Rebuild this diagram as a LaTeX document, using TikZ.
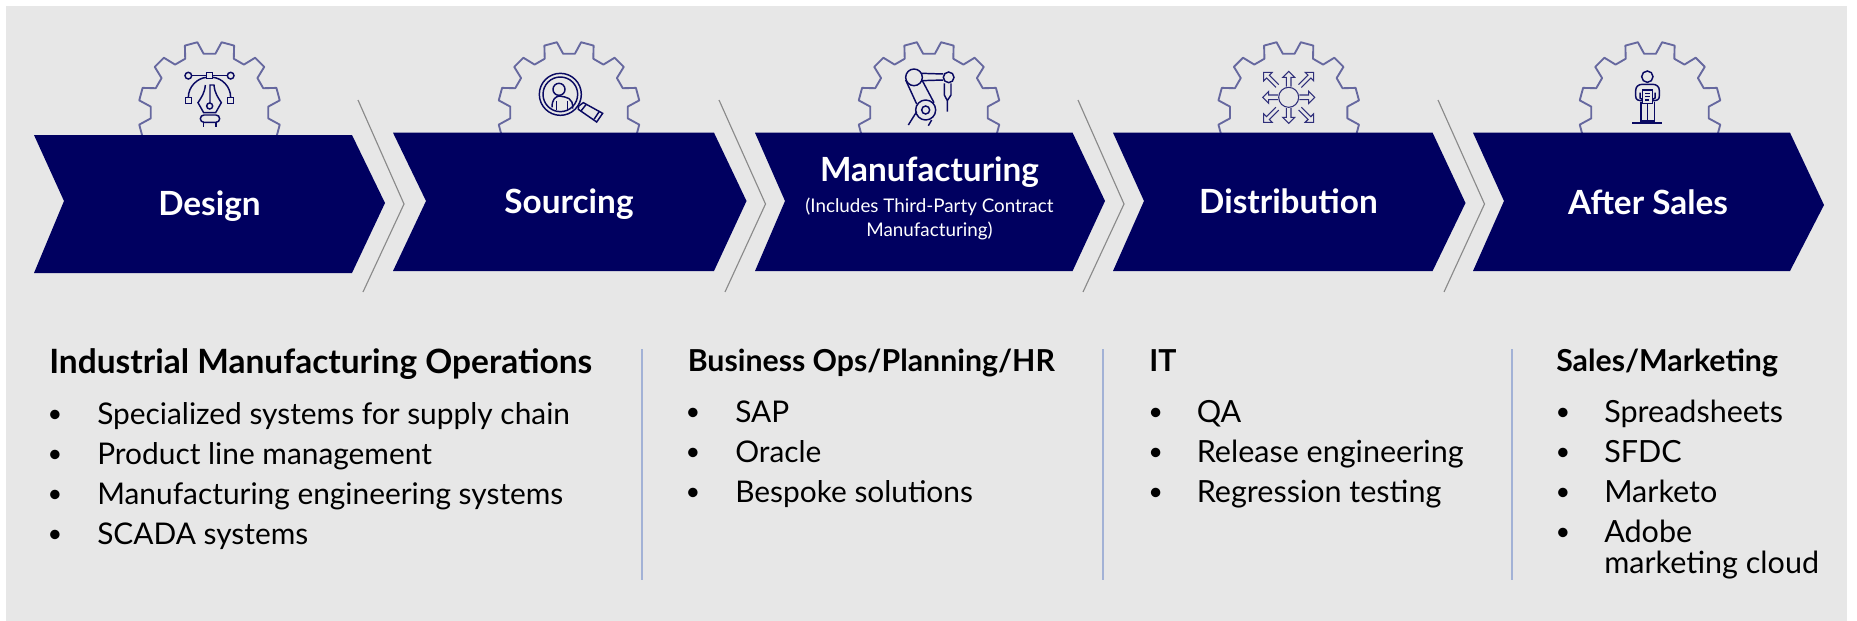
\documentclass[tikz,border=0pt]{standalone}
\usepackage{fontspec}
\setmainfont{Lato}
\definecolor{panelgray}{HTML}{E7E7E7}
\definecolor{navyfill}{HTML}{000060}
\definecolor{gearline}{HTML}{66689F}
\definecolor{iconline}{HTML}{0A0A62}
\definecolor{sepline}{HTML}{8A8A8A}
\definecolor{divline}{HTML}{A3B2D6}
\newlength{\pxlen}
\setlength{\pxlen}{0.75pt}
\begin{document}
\begin{tikzpicture}[x=\pxlen,y=-\pxlen]

% styles
\pgfkeys{/chev/.style={fill=navyfill, draw=none}} % arrow bands
\pgfkeys{/gear/.style={draw=gearline, line width=1.4pt, line join=round}} % cog behind each band
\pgfkeys{/icon/.style={draw=iconline, line width=1.1pt}} % line icons
\pgfkeys{/thinicon/.style={draw=iconline!85!white, line width=0.8pt, line join=miter}} % arrows icon
\pgfkeys{/sep/.style={draw=sepline, line width=0.85pt}} % lines between bands
\pgfkeys{/div/.style={draw=divline, line width=0.9pt}} % lines between columns
\pgfkeys{/title/.style={text=white, anchor=base, inner sep=0, node font=\fontsize{25pt}{29pt}\selectfont\bfseries}}
\pgfkeys{/subtitle/.style={text=white, anchor=base, inner sep=0, node font=\fontsize{14.1pt}{17pt}\selectfont}}
\pgfkeys{/head/.style={anchor=base west, inner sep=0, node font=\fontsize{22.7pt}{27pt}\selectfont\bfseries}}
\pgfkeys{/bighead/.style={/head, node font=\fontsize{25.1pt}{29pt}\selectfont\bfseries}}
\pgfkeys{/item/.style={anchor=base west, inner sep=0, node font=\fontsize{22.4pt}{27pt}\selectfont}}
\pgfkeys{/wideitem/.style={/item, node font=\fontsize{22.9pt}{27pt}\selectfont}}
\pgfkeys{/dot/.style={anchor=base, inner sep=0, yshift=0.8pt, node font=\fontsize{19pt}{23pt}\selectfont}}

\useasboundingbox (0,0) rectangle (1857,621);
\fill[panelgray] (6,6) rectangle (1847,621);

% cogs
\foreach \gx/\gy in {209.5/112.5, 569/112.5, 929/112.5, 1288.7/112.5, 1650/112.5} {
\draw[/gear, shift={(\gx,\gy)}] (5.7:59) foreach \a in {15,45,...,345} {
-- (\a-9.3:59) -- (\a-5.2:71.3) -- (\a+5.2:71.3) -- (\a+9.3:59)
} -- cycle;
}

% bands
\foreach \xl/\xn/\xr/\xt/\yt/\ym/\yb in {
34/64/352/385/135/203/273,
393/426/714/746.5/132.7/201/271,
755/785/1072.6/1105/132.7/201/271,
1113/1144/1432.6/1465.5/132.7/203/271,
1473/1504/1790/1824/132.7/205/271} {
\fill[/chev] (\xl,\yt) -- (\xr,\yt) -- (\xt,\ym) -- (\xr,\yb) -- (\xl,\yb) -- (\xn,201) -- cycle;
}

% lines between bands
\foreach \xa/\xb/\xc in {358/404/363, 719/765.5/725, 1078/1124/1083, 1438/1484.5/1444} {
\draw[/sep] (\xa,100) -- (\xb,204) -- (\xc,292);
}

% band labels
\node[/title] (design) at (209.5,215) {Design};
\node[/title] (sourcing) at (569,213.7) {Sourcing};
\node[/title] (manufacturing) at (929.5,181.7) {Manufacturing};
\node[/subtitle] (includes) at (929.5,212.2) {(Includes Third-Party Contract};
\node[/subtitle] (contract) at (929.5,236) {Manufacturing)};
\node[/title] (distribution) at (1288.5,213.7) {Distribution};
\node[/title] (aftersales) at (1648,214) {After Sales};

% pen icon
\begin{scope}[shift={(160,60)}, x=0.25pt, y=-0.25pt]
\draw[/icon] (95,47) -- (140,47) (158,47) -- (202,47);
\draw[/icon] (85,47) circle (10) (212,47) circle (10) (149,138) circle (9);
\draw[/icon] (140,37) rectangle (158,55) (76,112) rectangle (94,130) (203,112) rectangle (221,130);
\draw[/icon] (85,112) .. controls (85,80) and (112,54) .. (140,52);
\draw[/icon] (158,52) .. controls (186,54) and (212,80) .. (212,112);
\draw[/icon] (136,75) .. controls (134,100) and (124,112) .. (114,128) -- (131,158) -- (167,158) -- (184,128) .. controls (174,112) and (164,100) .. (162,75) -- (150,75) -- (150,129);
\draw[/icon] (132,165) -- (168,165) arc (-90:90:11) -- (132,187) arc (90:270:11);
\draw[/icon] (130,187) -- (130,200) (168,187) -- (168,200);
\end{scope}

% search icon
\begin{scope}[shift={(530,60)}, x=0.25pt, y=-0.25pt]
\draw[/icon] (91,103) circle (63) (91,103) circle (52) (87,88) circle (18);
\draw[/icon] (66,142) .. controls (66,118) and (76,110) .. (88,108) .. controls (110,112) and (130,112) .. (128,146);
\draw[/icon] (80,122) -- (80,150) (112,122) -- (112,150);
\draw[/icon] (146,138) -- (160,128) -- (218,160) -- (200,186) -- (145,148) -- cycle;
\draw[/icon] (168,134) -- (152,154) (208,154) -- (192,178);
\end{scope}

% robot icon
\begin{scope}[shift={(890,60)}, x=0.25pt, y=-0.25pt]
\draw[/icon] (72,52) circle (25) (176,52) circle (16) (107,150) circle (30) (107,150) circle (12);
\draw[/icon] (95,40) -- (160,42) (95,62) -- (160,60);
\draw[/icon] (47,60) -- (80,132) (97,62) -- (132,128);
\draw[/icon] (80,155) -- (55,195) (125,180) -- (115,197);
\draw[/icon] (163,70) -- (163,105) -- (172,122) -- (183,105) -- (183,70) (172,122) -- (172,155);
\end{scope}

% arrows icon
\begin{scope}[shift={(1245,60)}, x=0.25pt, y=-0.25pt]
\draw[/thinicon] (131,112) circle (30);
\foreach \a in {0,90,180,270} {
\draw[/thinicon, shift={(131,112)}, rotate=\a] (32,-7) -- (60,-7) -- (60,-18) -- (78,0) -- (60,18) -- (60,7) -- (32,7);
}
\foreach \a in {45,135,225,315} {
\draw[/thinicon, shift={(131,112)}, rotate=\a] (48,-6) -- (88,-6) -- (88,-18) -- (106,0) -- (88,18) -- (88,6) -- (48,6);
}
\end{scope}

% person icon
\begin{scope}[shift={(1605,60)}, x=0.25pt, y=-0.25pt]
\draw[/icon] (127,50) circle (17);
\draw[/icon] (112,122) .. controls (100,122) and (92,120) .. (92,108) -- (92,92) .. controls (92,80) and (100,73) .. (112,73) -- (143,73) .. controls (155,73) and (163,80) .. (163,92) -- (163,108) .. controls (163,120) and (155,122) .. (143,122);
\draw[/icon] (113,90) rectangle (142,130);
\draw[/icon] (120,100) -- (136,100) (120,110) -- (136,110) (120,120) -- (132,120);
\draw[/icon] (105,98) -- (105,114) -- (113,119) (150,98) -- (150,114) -- (142,119);
\draw[/icon] (108,125) -- (108,188) (148,125) -- (148,188) (127,130) -- (127,183);
\draw[/icon] (108,183) -- (148,183);
\draw[/icon, line width=1.3pt] (82,190) -- (172,190);
\end{scope}

% lines between columns
\foreach \dx in {642,1103,1512} {
\draw[/div] (\dx,349) -- (\dx,580);
}

% column 1
\node[/bighead] (heading1) at (49,373.7) {Industrial Manufacturing Operations};
\foreach \txt [count=\i] in {Specialized systems for supply chain, Product line management, Manufacturing engineering systems, SCADA systems} {
\node[/dot] (dot1\i) at (55,384+40*\i) {•};
\node[/item] (item1\i) at (97,384+40*\i) {\txt};
}

% column 2
\node[/head] (heading2) at (687.5,371.7) {Business Ops/Planning/HR};
\foreach \txt [count=\i] in {SAP, Oracle, Bespoke solutions} {
\node[/dot] (dot2\i) at (693,382+40*\i) {•};
\node[/item] (item2\i) at (735,382+40*\i) {\txt};
}

% column 3
\node[/head] (heading3) at (1149,371.7) {IT};
\foreach \txt [count=\i] in {QA, Release engineering, Regression testing} {
\node[/dot] (dot3\i) at (1155.6,382+40*\i) {•};
\node[/wideitem] (item3\i) at (1196.5,382+40*\i) {\txt};
}

% column 4
\node[/head] (heading4) at (1556,371.7) {Sales/Marketing};
\foreach \txt [count=\i] in {Spreadsheets, SFDC, Marketo, Adobe} {
\node[/dot] (dot4\i) at (1563,382+40*\i) {•};
\node[/wideitem] (item4\i) at (1604,382+40*\i) {\txt};
}
\node[/wideitem] (item4b) at (1604,573.5) {marketing cloud};

\end{tikzpicture}
\end{document}
